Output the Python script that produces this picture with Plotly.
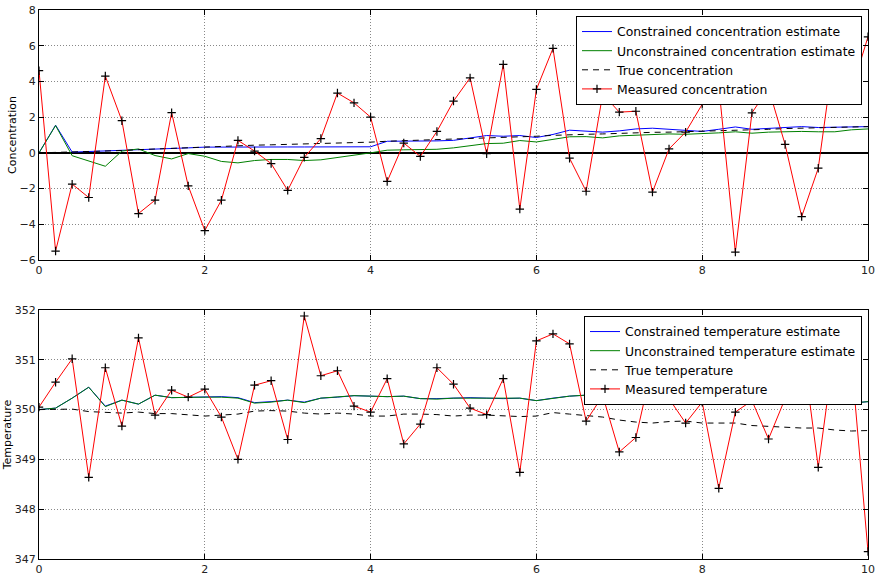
import numpy as np
import plotly.graph_objects as go

# ---- data ----
time = np.round(np.linspace(0, 10, 51), 1)

conc_constrained = [0, 1.55, 0.04, 0.07, 0.1, 0.13, 0.2, 0.22, 0.25, 0.28, 0.32, 0.33, 0.33, 0.33, 0.33, 0.33,
                    0.33, 0.33, 0.33, 0.34, 0.34, 0.65, 0.65, 0.65, 0.67, 0.7, 0.83, 0.97, 0.93, 0.97, 0.86,
                    1.03, 1.27, 1.21, 1.16, 1.23, 1.34, 1.38, 1.32, 1.23, 1.2, 1.32, 1.45, 1.32, 1.38, 1.45,
                    1.47, 1.42, 1.43, 1.45, 1.47]
conc_unconstrained = [0, 1.53, -0.16, -0.47, -0.75, 0.1, 0.22, -0.15, -0.34, -0.04, -0.19, -0.48, -0.56, -0.43,
                      -0.37, -0.37, -0.43, -0.39, -0.28, -0.13, 0.0, 0.15, 0.17, 0.19, 0.2, 0.28, 0.39, 0.52,
                      0.54, 0.69, 0.61, 0.75, 0.9, 0.91, 0.84, 0.95, 1.0, 1.04, 1.06, 1.04, 1.06, 1.12, 1.18,
                      1.1, 1.16, 1.2, 1.2, 1.18, 1.18, 1.29, 1.34]
conc_true = [0, 0.02, 0.04, 0.07, 0.1, 0.13, 0.18, 0.22, 0.25, 0.28, 0.32, 0.35, 0.38, 0.43, 0.45, 0.47, 0.49,
             0.52, 0.55, 0.57, 0.6, 0.65, 0.68, 0.7, 0.72, 0.75, 0.8, 0.84, 0.86, 0.9, 0.93, 0.98, 1.03, 1.04,
             1.06, 1.1, 1.12, 1.15, 1.16, 1.18, 1.2, 1.23, 1.25, 1.28, 1.32, 1.36, 1.38, 1.42, 1.43, 1.45, 1.47]
conc_measured = [4.6, -5.5, -1.75, -2.5, 4.3, 1.8, -3.4, -2.65, 2.25, -1.85, -4.35, -2.65, 0.7, 0.1, -0.6,
                 -2.1, -0.25, 0.8, 3.35, 2.8, 2.0, -1.6, 0.55, -0.2, 1.2, 2.9, 4.2, -0.05, 4.95, -3.15, 3.55,
                 5.85, -0.3, -2.15, 3.3, 2.28, 2.33, -2.2, 0.22, 1.16, 2.72, 3.75, -5.56, 2.24, 3.62, 0.47,
                 -3.57, -0.86, 5.9, 3.47, 6.5]

temp_constrained = [350.0, 350.03, 350.23, 350.45, 350.07, 350.19, 350.11, 350.29, 350.24, 350.25, 350.25,
                    350.26, 350.24, 350.14, 350.16, 350.19, 350.15, 350.23, 350.25, 350.28, 350.27, 350.26,
                    350.27, 350.22, 350.22, 350.23, 350.24, 350.23, 350.22, 350.23, 350.18, 350.23, 350.27,
                    350.29, 350.29, 350.27, 350.25, 350.22, 350.22, 350.22, 350.21, 350.21, 350.15, 350.15,
                    350.14, 350.13, 350.13, 350.15, 350.13, 350.13, 350.16]
temp_unconstrained = [350.0, 350.03, 350.23, 350.45, 350.06, 350.19, 350.11, 350.29, 350.24, 350.25, 350.25,
                      350.25, 350.23, 350.13, 350.15, 350.19, 350.14, 350.23, 350.25, 350.28, 350.27, 350.26,
                      350.27, 350.22, 350.21, 350.23, 350.23, 350.23, 350.22, 350.23, 350.18, 350.23, 350.27,
                      350.29, 350.29, 350.27, 350.25, 350.22, 350.22, 350.22, 350.21, 350.21, 350.15, 350.15,
                      350.14, 350.13, 350.13, 350.15, 350.13, 350.13, 350.16]
temp_true = [350.0, 350.01, 350.01, 349.96, 349.95, 349.93, 349.95, 349.92, 349.92, 349.9, 349.87, 349.89,
             349.91, 349.97, 349.98, 349.97, 349.93, 349.91, 349.93, 349.91, 349.87, 349.87, 349.91, 349.91,
             349.9, 349.87, 349.89, 349.89, 349.87, 349.86, 349.87, 349.94, 349.91, 349.88, 349.85, 349.79,
             349.75, 349.73, 349.76, 349.77, 349.73, 349.73, 349.73, 349.68, 349.66, 349.65, 349.63, 349.63,
             349.59, 349.57, 349.58]
temp_measured = [350.05, 350.55, 351.02, 348.64, 350.84, 349.67, 351.44, 349.89, 350.39, 350.25, 350.41,
                 349.85, 349.0, 350.49, 350.58, 349.4, 351.88, 350.68, 350.78, 350.07, 349.95, 350.62, 349.31,
                 349.71, 350.84, 350.51, 350.03, 349.9, 350.62, 348.74, 351.38, 351.52, 351.32, 349.77, 350.28,
                 349.15, 349.44, 350.9, 350.22, 349.73, 350.15, 348.42, 349.95, 350.18, 349.41, 350.22, 351.4,
                 348.84, 351.3, 351.0, 347.15]

x_ticks = [0, 2, 4, 6, 8, 10]
conc_ticks = [-6, -4, -2, 0, 2, 4, 6, 8]
temp_ticks = [347, 348, 349, 350, 351, 352]

# ---- styling ----
FONT = "DejaVu Sans"
BLUE, GREEN, RED = "#0000ff", "#008000", "#ff0000"

fig = go.Figure()


def add_panel(xa, ya, leg, names, c, u, t, m):
    fig.add_trace(go.Scatter(x=time, y=c, mode="lines", name=names[0], xaxis=xa, yaxis=ya, legend=leg,
                             line=dict(color=BLUE, width=1)))
    fig.add_trace(go.Scatter(x=time, y=u, mode="lines", name=names[1], xaxis=xa, yaxis=ya, legend=leg,
                             line=dict(color=GREEN, width=1)))
    fig.add_trace(go.Scatter(x=time, y=t, mode="lines", name=names[2], xaxis=xa, yaxis=ya, legend=leg,
                             line=dict(color="black", width=1, dash="6px,5px")))
    fig.add_trace(go.Scatter(x=time, y=m, mode="lines+markers", name=names[3], xaxis=xa, yaxis=ya, legend=leg,
                             line=dict(color=RED, width=1),
                             marker=dict(symbol="cross-thin", size=6, color="black",
                                         line=dict(color="black", width=1.2))))


add_panel("x", "y", "legend",
          ["Constrained concentration estimate", "Unconstrained concentration estimate",
           "True concentration", "Measured concentration"],
          conc_constrained, conc_unconstrained, conc_true, conc_measured)
add_panel("x2", "y2", "legend2",
          ["Constrained temperature estimate", "Unconstrained temperature estimate",
           "True temperature", "Measured temperature"],
          temp_constrained, temp_unconstrained, temp_true, temp_measured)

axis_common = dict(
    showline=True, linecolor="black", linewidth=1, mirror="ticks",
    ticks="inside", ticklen=5, tickcolor="black",
    showgrid=True, gridcolor="#888888", griddash="1px,2px", gridwidth=1,
    tickfont=dict(family=FONT, size=11, color="#222"),
    zeroline=False, automargin=False,
)

H = 549.0
top_dom = [(549 - 250) / H, 1.0]
bot_dom = [0.0, 249 / H]

legend_common = dict(xanchor="right", yanchor="top", bgcolor="white", bordercolor="black", borderwidth=1,
                     font=dict(family=FONT, size=12.4), tracegroupgap=0, itemwidth=30)

fig.update_layout(
    width=876, height=575,
    margin=dict(l=39, r=8, t=10, b=16, autoexpand=False),
    paper_bgcolor="white", plot_bgcolor="white",
    font=dict(family=FONT, size=12, color="black"),
    xaxis=dict(axis_common, domain=[0, 1], range=[0, 10], tickvals=x_ticks, anchor="y", ticklabelstandoff=0),
    yaxis=dict(axis_common, domain=top_dom, range=[-6, 8], tickvals=conc_ticks, anchor="x",
               zeroline=True, zerolinecolor="black", zerolinewidth=1.5,
               title=dict(text="Concentration", font=dict(family=FONT, size=11), standoff=0)),
    xaxis2=dict(axis_common, domain=[0, 1], range=[0, 10], tickvals=x_ticks, anchor="y2", ticklabelstandoff=0),
    yaxis2=dict(axis_common, domain=bot_dom, range=[347, 352], tickvals=temp_ticks, anchor="x2",
                title=dict(text="Temperature", font=dict(family=FONT, size=11), standoff=0)),
    legend=dict(legend_common, x=(862 - 39) / 829, y=(559 - 16) / H),
    legend2=dict(legend_common, x=(862 - 39) / 829, y=(559 - 316) / H),
    showlegend=True,
)

fig.write_html("out.html", config={"displayModeBar": False},
               post_script="document.body.style.margin='0';document.body.style.overflow='hidden';")
